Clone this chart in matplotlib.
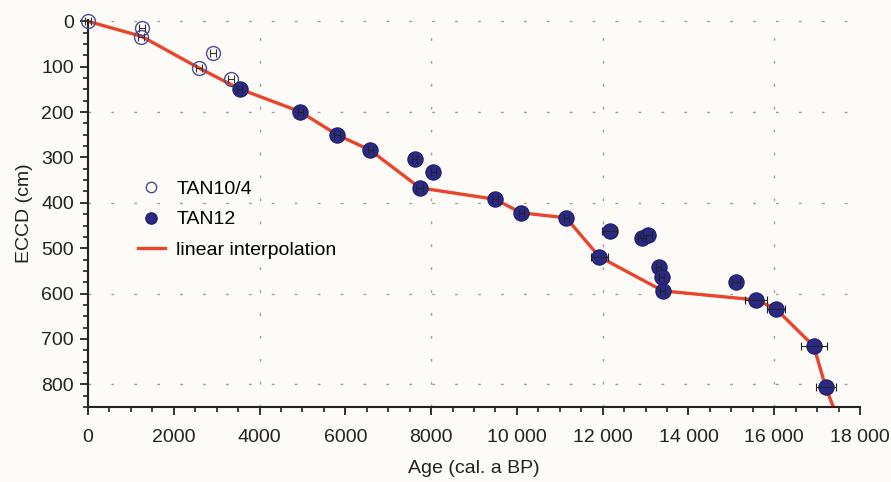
import matplotlib
matplotlib.use("Agg")
import matplotlib.pyplot as plt
from matplotlib.ticker import MultipleLocator, FixedLocator, FixedFormatter

plt.rcParams['font.family'] = ['Liberation Sans', 'DejaVu Sans']

# TAN10/4 (open circles)
tan10_age = [0, 1270, 1230, 2910, 2590, 3340]
tan10_depth = [0, 14, 34, 70, 103, 127]
tan10_err = [70, 70, 70, 70, 70, 70]

# TAN12 (filled circles)
tan12_age = [3535, 4946, 5807, 6581, 7620, 8054, 7737, 9488, 10100, 11147,
             12160, 11923, 12914, 13047, 13302, 13380, 13402, 15109, 15574,
             16030, 16923, 17202]
tan12_depth = [149, 199, 250, 284, 303, 331, 367, 392, 422, 433,
               462, 519, 477, 471, 541, 564, 594, 575, 614,
               633, 716, 807]
tan12_err = [60, 60, 60, 60, 60, 60, 80, 60, 60, 60,
             180, 205, 100, 100, 60, 60, 60, 100, 265,
             210, 303, 233]

# linear interpolation age model
interp_age = [0, 1250, 2590, 3535, 4946, 5807, 6581, 7737, 9488, 10100, 11147,
              11923, 13402, 15574, 16030, 16923, 17202, 17420]
interp_depth = [0, 33, 103, 149, 199, 250, 284, 367, 392, 422, 433,
                519, 594, 614, 633, 716, 807, 860]

xticks = [0, 2000, 4000, 6000, 8000, 10000, 12000, 14000, 16000, 18000]
xticklabels = ['0', '2000', '4000', '6000', '8000', '10 000', '12 000',
               '14 000', '16 000', '18 000']

navy = '#2a2a86'
red = '#e8452c'
bg = '#fdfbf8'

fig = plt.figure(figsize=(8.91, 4.82), dpi=100, facecolor=bg)
ax = fig.add_axes([88/891, 1 - 407/482, (860 - 88)/891, (407 - 20)/482])
ax.set_facecolor(bg)

ax.plot(interp_age, interp_depth, color=red, lw=2.4, zorder=2,
        label='linear interpolation')
ax.plot(tan10_age, tan10_depth, 'o', ms=10, mfc='none', mec='#4b4b95',
        mew=1.0, zorder=3, clip_on=False, label='TAN10/4')
ax.plot(tan12_age, tan12_depth, 'o', ms=11, mfc=navy, mec='#1c1c60',
        mew=0.8, zorder=3, label='TAN12')
ax.errorbar(tan10_age, tan10_depth, xerr=tan10_err, fmt='none',
            ecolor='#333333', elinewidth=0.8, capsize=3, capthick=0.8,
            zorder=4, clip_on=False)
ax.errorbar(tan12_age, tan12_depth, xerr=tan12_err, fmt='none',
            ecolor='#222222', elinewidth=0.8, capsize=3, capthick=0.8,
            zorder=4)

ax.set_xlim(0, 18000)
ax.set_ylim(850, -3)

ax.xaxis.set_major_locator(FixedLocator(xticks))
ax.xaxis.set_major_formatter(FixedFormatter(xticklabels))
ax.xaxis.set_minor_locator(MultipleLocator(500))
ax.yaxis.set_major_locator(MultipleLocator(100))
ax.yaxis.set_minor_locator(MultipleLocator(25))

ax.tick_params(which='major', direction='out', length=6, width=1.3,
               labelsize=14, colors='#222222')
ax.tick_params(which='minor', direction='out', length=3.5, width=1.2,
               colors='#222222')
ax.tick_params(axis='x', pad=10)
ax.tick_params(axis='y', pad=4)

for s in ['top', 'right']:
    ax.spines[s].set_visible(False)
for s in ['left', 'bottom']:
    ax.spines[s].set_linewidth(1.5)
    ax.spines[s].set_color('#222222')

# sparse dotted grid
for gx in [4000, 8000, 12000, 16000]:
    ax.axvline(gx, color='#a0a0a0', lw=1.0, ls=(0, (2, 14.5)), zorder=0)
for gy in [0, 200, 400, 600, 800]:
    ax.axhline(gy, color='#a0a0a0', lw=1.0, ls=(0, (2, 14.5)), zorder=0)

ax.set_xlabel('Age (cal. a BP)', fontsize=14, color='#222222', labelpad=10)
ax.set_ylabel('ECCD (cm)', fontsize=14, color='#222222', labelpad=6)

h, l = ax.get_legend_handles_labels()
order = [1, 2, 0]
ax.legend([h[i] for i in order], [l[i] for i in order], frameon=False,
          loc='upper left', bbox_to_anchor=(120/891, 1 - 163/482),
          bbox_transform=fig.transFigure, fontsize=14, markerscale=0.75,
          handlelength=1.4, handletextpad=0.6, labelspacing=0.65)

fig.savefig('out.png', dpi=100, facecolor=bg)
